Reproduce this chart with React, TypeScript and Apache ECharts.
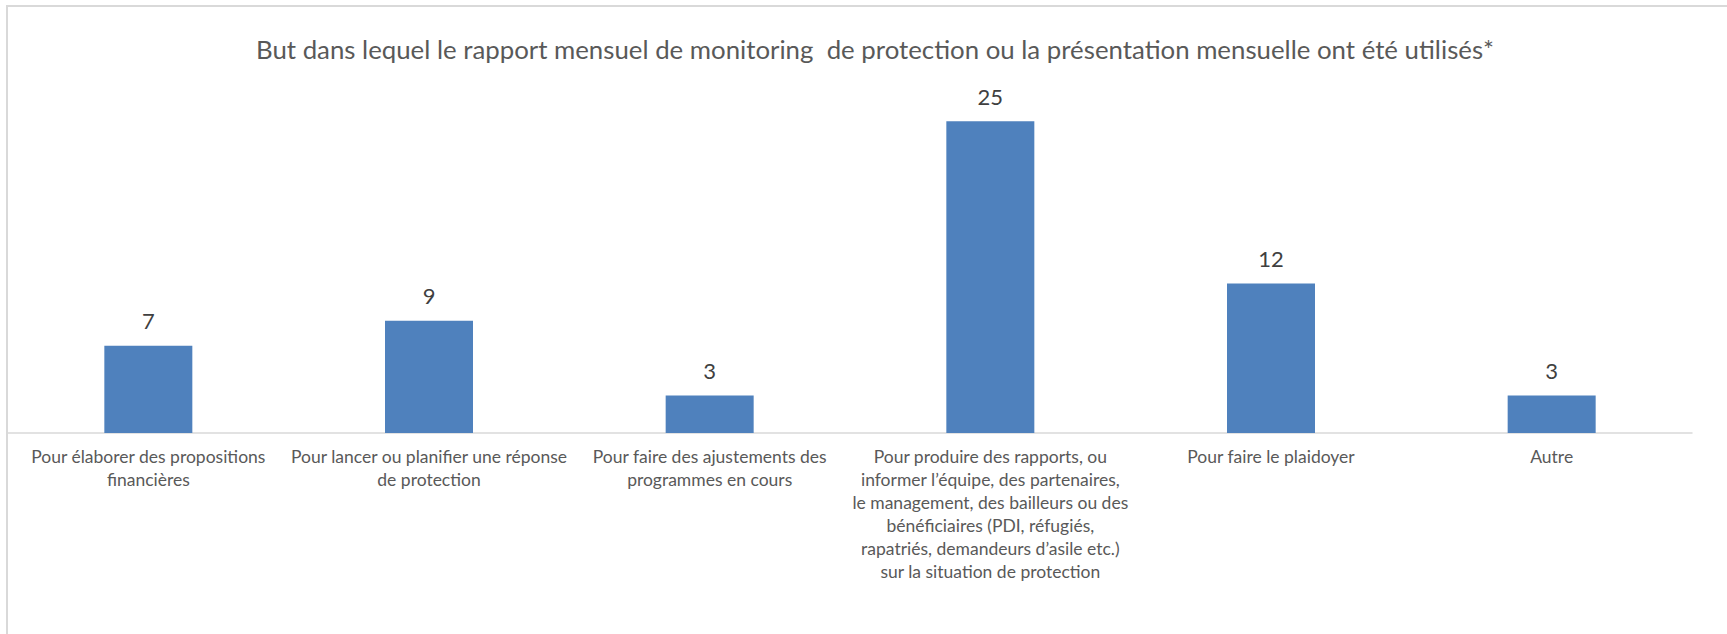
import React, { useEffect, useRef } from "react";
import * as echarts from "echarts";

const TITLE = "But dans lequel le rapport mensuel de monitoring  de protection ou la présentation mensuelle ont été utilisés*";
const categories = [
  "Pour élaborer des propositions\nfinancières",
  "Pour lancer ou planifier une réponse\nde protection",
  "Pour faire des ajustements des\nprogrammes en cours",
  "Pour produire des rapports, ou\ninformer l’équipe, des partenaires,\nle management, des bailleurs ou des\nbénéficiaires (PDI, réfugiés,\nrapatriés, demandeurs d’asile etc.)\nsur la situation de protection",
  "Pour faire le plaidoyer",
  "Autre",
];
const values = [7, 9, 3, 25, 12, 3];

export default function App() {
  const ref = useRef<HTMLDivElement>(null);
  useEffect(() => {
    document.body.style.margin = "0";
    const chart = echarts.init(ref.current!, null, { renderer: "svg" });
    chart.setOption({
      animation: false,
      backgroundColor: "#ffffff",
      textStyle: { fontFamily: "Lato" },
      title: {
        text: TITLE,
        left: 251,
        top: 31,
        textStyle: { fontFamily: "Lato", fontSize: 25.8, fontWeight: "normal", color: "#595959" },
      },
      graphic: [
        {
          type: "rect",
          shape: { x: 7, y: 6, width: 1760, height: 700 },
          style: { fill: "none", stroke: "#d9d9d9", lineWidth: 2 },
          silent: true,
        },
      ],
      grid: { left: 8, right: 35, top: 59, bottom: 201, containLabel: false },
      xAxis: {
        type: "category",
        data: categories,
        axisLine: { lineStyle: { color: "#d9d9d9", width: 1.5 } },
        axisTick: { show: false },
        axisLabel: {
          interval: 0,
          color: "#595959",
          fontFamily: "Lato",
          fontSize: 17.5,
          lineHeight: 23,
          margin: 12,
          align: "center",
        },
      },
      yAxis: { type: "value", min: 0, max: 30, show: false, splitLine: { show: false } },
      series: [
        {
          type: "bar",
          data: values,
          barWidth: 88,
          itemStyle: { color: "#4f81bd" },
          label: {
            show: true,
            position: "top",
            distance: 14,
            color: "#404040",
            fontFamily: "Lato",
            fontSize: 22,
          },
        },
      ],
    });
    return () => chart.dispose();
  }, []);
  return <div ref={ref} style={{ width: 1727, height: 634 }} />;
}
